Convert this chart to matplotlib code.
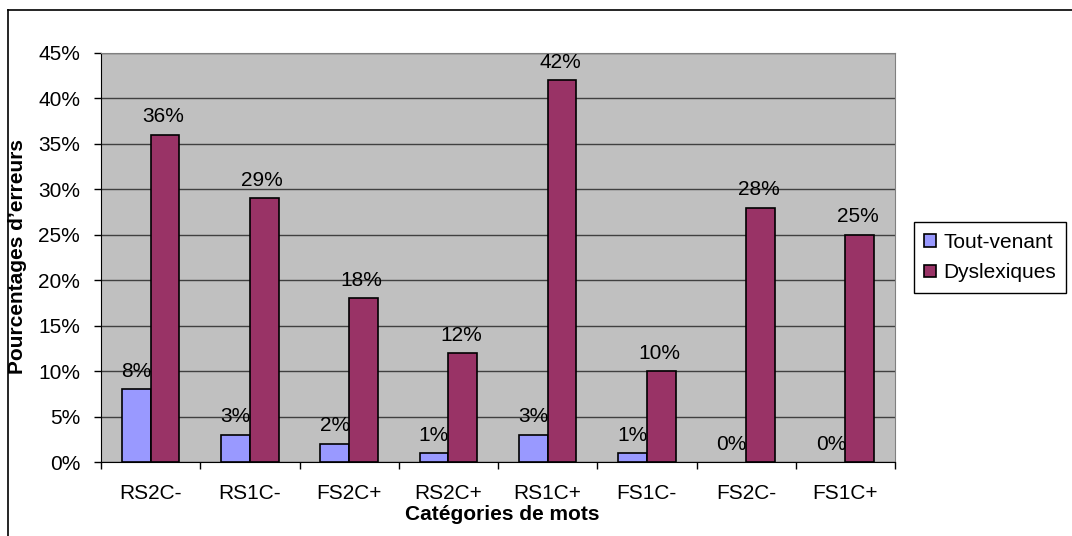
"""
Error rates by word category, two reader groups
"""

from matplotlib import pyplot as plt
from matplotlib.lines import Line2D
import numpy as np

categories = ["RS2C-", "RS1C-", "FS2C+", "RS2C+", "RS1C+", "FS1C-", "FS2C-", "FS1C+"]
tout_venant = [8, 3, 2, 1, 3, 1, 0, 0]
dyslexiques = [36, 29, 18, 12, 42, 10, 28, 25]
series_names = ["Tout-venant", "Dyslexiques"]
yticks = [0, 5, 10, 15, 20, 25, 30, 35, 40, 45]

plt.rcParams["font.family"] = ["Liberation Sans", "DejaVu Sans"]
FS = 15
W, H = 1072, 536

fig = plt.figure(figsize=(W / 100, H / 100), dpi=100)
ax = fig.add_axes([101 / W, (H - 462) / H, 794 / W, 409 / H])
ax.set_facecolor("#C0C0C0")

x = np.arange(len(categories))
bw = 0.29
b1 = ax.bar(x - bw / 2, tout_venant, bw, color="#9999FF", edgecolor="black",
            linewidth=1.2, zorder=3, label=series_names[0])
b2 = ax.bar(x + bw / 2, dyslexiques, bw, color="#993366", edgecolor="black",
            linewidth=1.2, zorder=3, label=series_names[1])
# empty bars leave no outline
for patch, v in zip(b1.patches, tout_venant):
    if v == 0:
        patch.set_linewidth(0)

for xi, v in zip(x, tout_venant):
    ax.annotate(f"{v}%", (xi - bw / 2, v), xytext=(0, 6),
                textcoords="offset points", ha="center", va="bottom", fontsize=FS)
for xi, v in zip(x, dyslexiques):
    ax.annotate(f"{v}%", (xi + bw / 2 - 0.02, v), xytext=(0, 6),
                textcoords="offset points", ha="center", va="bottom", fontsize=FS)

ax.set_xlim(-0.5, len(categories) - 0.5)
ax.set_ylim(0, 45)
ax.set_yticks(yticks)
ax.set_yticklabels([f"{t}%" for t in yticks], fontsize=FS)
ax.yaxis.grid(True, color="#404040", linewidth=1.0, zorder=0)
ax.tick_params(axis="y", direction="out", length=5, width=1, pad=10)

ax.set_xticks(x)
ax.set_xticklabels(categories, fontsize=FS)
ax.set_xticks(np.arange(-0.5, len(categories)), minor=True)
ax.tick_params(axis="x", which="major", length=0, pad=16)
ax.tick_params(axis="x", which="minor", direction="out", length=5, width=1)

for side in ["top", "right"]:
    ax.spines[side].set_color("#808080")
ax.spines["left"].set_color("black")
ax.spines["bottom"].set_color("black")

fig.text(502 / W, 1 - 514 / H, "Catégories de mots", ha="center", va="center",
         fontsize=FS, fontweight="bold")
fig.text(18 / W, 1 - 256 / H, "Pourcentages d’erreurs", ha="center", va="center",
         rotation=90, fontsize=FS, fontweight="bold")

leg = fig.legend(handles=[b1, b2], loc="center left",
                 bbox_to_anchor=(914 / W, 1 - 257.5 / H), fontsize=FS,
                 frameon=True, fancybox=False, framealpha=1, edgecolor="black",
                 handlelength=0.55, handleheight=0.55, handletextpad=0.35,
                 borderpad=0.5, labelspacing=0.55, borderaxespad=0)
leg.get_frame().set_linewidth(1.0)

# outline along left and top edges
fig.add_artist(Line2D([8 / W, 8 / W], [0, 1 - 10 / H], color="black", linewidth=1.2))
fig.add_artist(Line2D([8 / W, 1], [1 - 10 / H, 1 - 10 / H], color="black", linewidth=1.2))

fig.savefig("out.png", dpi=100)
